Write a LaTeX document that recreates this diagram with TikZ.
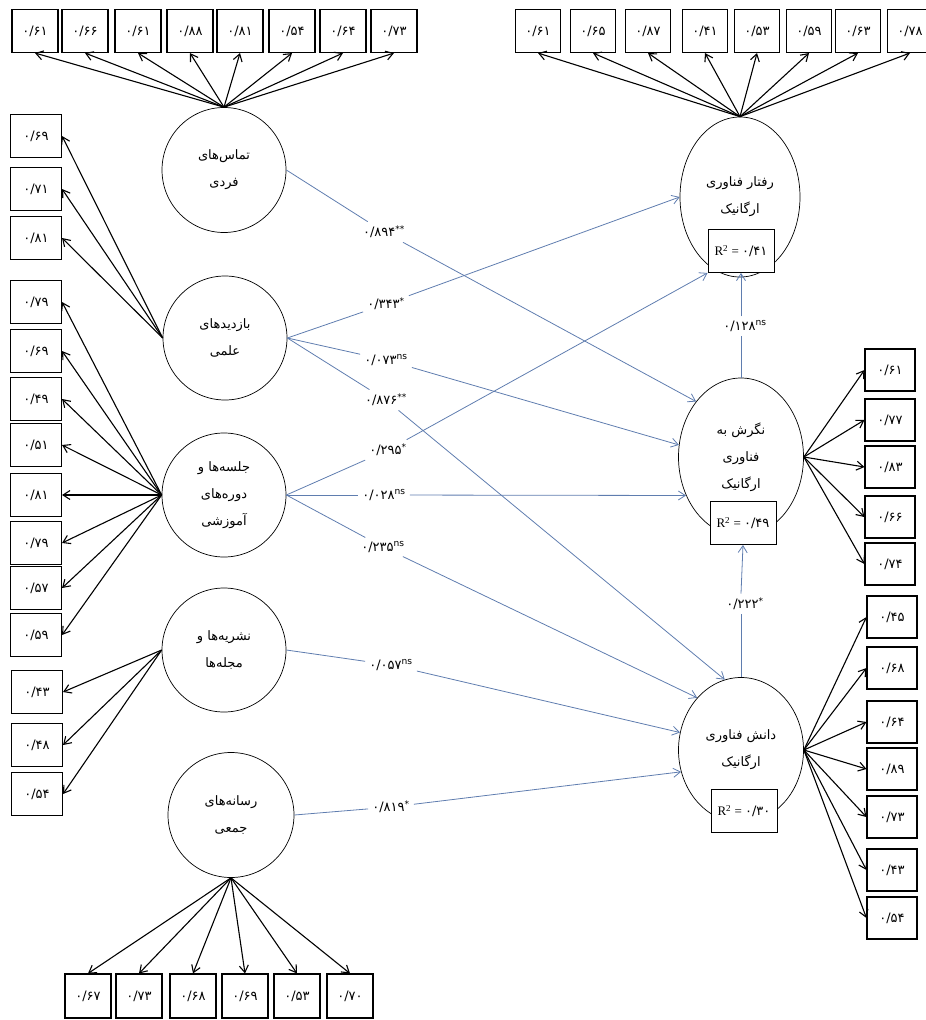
\documentclass[tikz,border=0pt]{standalone}
\usepackage{fontspec}
\setmainfont{Liberation Serif}
\newfontfamily\persianfont[Script=Arabic]{DejaVu Sans}
\TeXXeTstate=1
\usetikzlibrary{arrows.meta,shapes.geometric}
\definecolor{pathblue}{RGB}{95,125,175}
\tikzset{
  ind/.style={draw, line width=1.1pt, minimum width=46pt, minimum height=43pt, inner sep=0pt,
    font=\persianfont\fontsize{13}{15}\selectfont},
  latent/.style={draw, ellipse, line width=0.7pt, align=center, inner sep=0pt,
    font=\persianfont\fontsize{13}{27}\selectfont},
  rbox/.style={draw, fill=white, line width=0.9pt, minimum width=66pt, minimum height=43pt,
    font=\fontsize{13}{15}\selectfont},
  coef/.style={inner sep=4pt, font=\persianfont\fontsize{13}{15}\selectfont},
  load/.style={line width=1.1pt, -{Straight Barb[length=7pt,width=9pt]}},
  effect/.style={pathblue, line width=0.8pt},
  effectarrow/.style={effect, -{Straight Barb[length=7pt,width=9pt]}},
}
\begin{document}
\begin{tikzpicture}[x=1pt,y=-1pt]
  \useasboundingbox (0,0) rectangle (926,1020);
  % latent variables
  \node[latent, minimum width=124pt, minimum height=125pt] (cont) at (224,170)
    {\beginR تماس^^^^200cهای\endR\\\beginR فردی\endR};
  \node[latent, minimum width=124pt, minimum height=124pt] (visit) at (225,338)
    {\beginR بازدیدهای\endR\\\beginR علمی\endR};
  \node[latent, minimum width=124pt, minimum height=124pt] (course) at (224,495)
    {\beginR جلسه^^^^200cها و\endR\\\beginR دوره^^^^200cهای\endR\\\beginR آموزشی\endR};
  \node[latent, minimum width=124pt, minimum height=124pt] (journal) at (224,650)
    {\beginR نشریه^^^^200cها و\endR\\\beginR مجله^^^^200cها\endR};
  \node[latent, minimum width=126pt, minimum height=125pt] (media) at (231,815)
    {\beginR رسانه^^^^200cهای\endR\\\beginR جمعی\endR};
  \node[latent, minimum width=120pt, minimum height=160pt] (behav) at (740,197)
    {\beginR رفتار فناوری\endR\\\beginR ارگانیک\endR};
  \node[latent, minimum width=125pt, minimum height=158pt] (attit) at (741,457)
    {\beginR نگرش به\endR\\\beginR فناوری\endR\\\beginR ارگانیک\endR};
  \node[latent, minimum width=125pt, minimum height=145pt] (know) at (741,750)
    {\beginR دانش فناوری\endR\\\beginR ارگانیک\endR};
  % R squared
  \node[rbox] (rbehav) at (741,251) {R\textsuperscript{2} = {\persianfont ۰/۴۱}};
  \node[rbox] (rattit) at (743,523) {R\textsuperscript{2} = {\persianfont ۰/۴۹}};
  \node[rbox] (rknow) at (744,811) {R\textsuperscript{2} = {\persianfont ۰/۳۰}};

  % indicators
  \foreach \x/\v [count=\i] in {35/۶۱,85/۶۶,138/۶۱,190/۸۸,240/۸۱,292/۵۴,343/۶۴,394/۷۳} {
    \node[ind] (cb\i) at (\x,31) {۰/\v};
    \draw[load] (cont.north) -- (cb\i.south);
  }
  \foreach \x/\v [count=\i] in {538/۶۱,593/۶۵,648/۸۷,705/۴۱,757/۵۳,809/۵۹,858/۶۳,910/۷۸} {
    \node[ind, minimum width=45pt] (bb\i) at (\x,31) {۰/\v};
    \draw[load] (behav.north) -- (bb\i.south);
  }
  \foreach \y/\v [count=\i] in {136/۶۹,189/۷۱,238/۸۱} {
    \node[ind, minimum width=51pt] (vb\i) at (36,\y) {۰/\v};
    \draw[load] (visit.west) -- (vb\i.east);
  }
  \foreach \y/\v [count=\i] in {302/۷۹,351/۶۹,399/۴۹,445/۵۱,495/۸۱,543/۷۹,588/۵۷,635/۵۹} {
    \node[ind, minimum width=51pt] (sb\i) at (36,\y) {۰/\v};
    \draw[load] (course.west) -- (sb\i.east);
  }
  \foreach \y/\v [count=\i] in {692/۴۳,745/۴۸,794/۵۴} {
    \node[ind, minimum width=51pt] (jb\i) at (37,\y) {۰/\v};
    \draw[load] (journal.west) -- (jb\i.east);
  }
  \foreach \x/\v [count=\i] in {88/۶۷,139/۷۳,193/۶۸,245/۶۹,297/۵۳,350/۷۰} {
    \node[ind, minimum height=44pt] (mb\i) at (\x,996) {۰/\v};
    \draw[load] (media.south) -- (mb\i.north);
  }
  \foreach \y/\v [count=\i] in {370/۶۱,420/۷۷,467/۸۳,517/۶۶,564/۷۴} {
    \node[ind, minimum width=50pt, minimum height=42pt] (ab\i) at (890,\y) {۰/\v};
    \draw[load] (attit.east) -- (ab\i.west);
  }
  \foreach \y/\v [count=\i] in {617/۴۵,668/۶۸,722/۶۴,769/۸۹,817/۷۳,870/۴۳,918/۵۴} {
    \node[ind, minimum width=50pt, minimum height=42pt] (kb\i) at (892,\y) {۰/\v};
    \draw[load] (know.east) -- (kb\i.west);
  }

  % path coefficients
  \node[coef] (p1) at (384,232) {۰/۸۹۴\textsuperscript{**}};
  \node[coef] (p2) at (386,304) {۰/۳۴۳\textsuperscript{*}};
  \node[coef] (p3) at (386,360) {۰/۰۷۳\textsuperscript{ns}};
  \node[coef] (p4) at (386,400) {۰/۸۷۶\textsuperscript{**}};
  \node[coef] (p5) at (388,450) {۰/۲۹۵\textsuperscript{*}};
  \node[coef] (p6) at (384,495) {۰/۰۲۸\textsuperscript{ns}};
  \node[coef] (p7) at (383,547) {۰/۲۳۵\textsuperscript{ns}};
  \node[coef] (p8) at (391,665) {۰/۰۵۷\textsuperscript{ns}};
  \node[coef] (p9) at (391,807) {۰/۸۱۹\textsuperscript{*}};
  \node[coef] (p10) at (745,326) {۰/۱۲۸\textsuperscript{ns}};
  \node[coef] (p11) at (745,604) {۰/۲۲۲\textsuperscript{*}};

  \draw[effect] (cont.east) -- (p1);
  \draw[effectarrow] (p1) -- (attit.129);
  \draw[effect] (visit.east) -- (p2);
  \draw[effectarrow] (p2) -- (behav.180);
  \draw[effect] (visit.east) -- (p3);
  \draw[effectarrow] (p3) -- (attit.169);
  \draw[effect] (visit.east) -- (p4);
  \draw[effectarrow] (p4) -- (know.103);
  \draw[effect] (course.east) -- (p5);
  \draw[effectarrow] (p5) -- (rbehav.south west);
  \draw[effect] (course.east) -- (p6);
  \draw[effectarrow] (p6) -- (attit.215);
  \draw[effect] (course.east) -- (p7);
  \draw[effectarrow] (p7) -- (know.130);
  \draw[effect] (journal.east) -- (p8);
  \draw[effectarrow] (p8) -- (know.164);
  \draw[effect] (media.east) -- (p9);
  \draw[effectarrow] (p9) -- (know.200);
  \draw[effect] (attit.north) -- (attit.north |- p10.south);
  \draw[effectarrow] (attit.north |- p10.north) -- (rbehav.south);
  \draw[effect] (know.north) -- (know.north |- p11.south);
  \draw[effectarrow] (know.north |- p11.north) -- (rattit.south);
\end{tikzpicture}
\end{document}
